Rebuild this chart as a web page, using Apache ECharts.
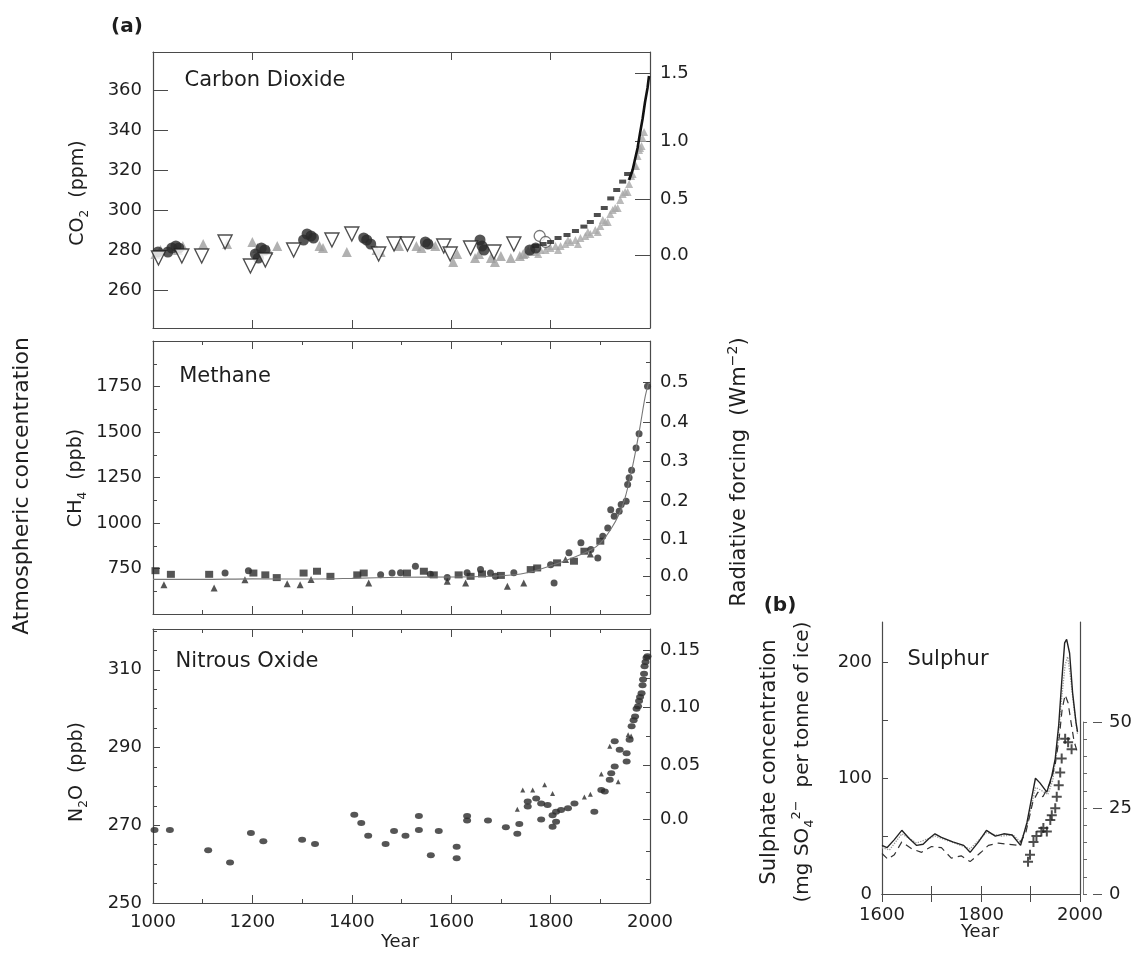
<!DOCTYPE html>
<html><head><meta charset="utf-8">
<script src="https://cdn.jsdelivr.net/npm/echarts@6/dist/echarts.min.js"></script>
<style>html,body{margin:0;padding:0;background:#fff}#c{width:1140px;height:954px}</style>
</head><body><div id="c"></div>
<script>
// ---------------- DATA ----------------
// Panel (a) Carbon dioxide, ppm
const co2GrayTriangles = [[1005,278],[1015,280],[1050,280],[1060,282],[1101,283],[1149,283],[1200,284],[1210,281],[1232,280],[1250,282],[1335,282],[1342,281],[1390,279],[1450,280],[1458,279],[1495,282],[1530,282],[1540,281],[1560,283],[1568,282],[1604,274],[1612,278],[1648,276],[1656,278],[1680,276],[1688,274],[1700,277],[1720,276],[1738,277],[1745,278]];
const co2DarkCircles = [[1010,279],[1030,279],[1038,281],[1046,282],[1052,281],[1206,278],[1212,276],[1218,281],[1225,280],[1303,285],[1310,288],[1318,287],[1323,286],[1424,286],[1430,285],[1438,283],[1548,284],[1553,283],[1658,285],[1662,282],[1666,280],[1758,280],[1770,281]];
const co2OpenTriangles = [[1011,276],[1058,277],[1098,277],[1145,284],[1196,272],[1226,275],[1283,280],[1360,285],[1400,288],[1454,278],[1485,283],[1512,283],[1585,282],[1598,278],[1639,281],[1686,279],[1726,283]];
const co2OpenCircles = [[1778,287],[1790,284]];
const co2GrayBand = [[1750,278],[1760,279],[1770,279],[1780,280],[1790,280],[1800,281],[1810,282],[1820,282],[1830,283],[1840,284],[1850,285],[1860,286],[1870,287],[1880,288],[1890,290],[1900,292],[1910,294],[1920,298],[1930,301],[1940,305],[1950,309],[1958,313],[1965,318],[1970,322],[1975,327],[1980,331],[1985,336],[1988,339],
  [1755,280],[1775,278],[1795,282],[1815,280],[1835,285],[1855,283],[1875,289],[1895,289],[1905,295],[1915,294],[1925,300],[1935,301],[1945,308],[1955,309],[1962,317],[1972,322],[1978,330],[1983,332]];
const co2DarkDashes = [[1770,282],[1785,283],[1800,284],[1815,286],[1833,287.5],[1850,289.5],[1867,291.7],[1880,294],[1894,297.5],[1908,301],[1921,305.8],[1933,310],[1945,314.2],[1955,318]];
const co2Instrumental = [[1958,315],[1965,320],[1970,325.5],[1975,331],[1980,338.5],[1985,345.5],[1990,354],[1995,361],[1998,367]];
const co2Ticks = [260,280,300,320,340,360];
const co2ForcingLabels = ['0.0','0.5','1.0','1.5'];
const co2ForcingAt = [277.5,305.5,334.5,368.5];   // ppm level of each forcing tick

// Methane, ppb
const ch4Line = [[1000,690],[1100,690],[1200,693],[1300,692],[1400,696],[1500,702],[1600,703],[1700,710],[1750,725],[1800,765],[1850,815],[1880,850],[1900,890],[1920,960],[1940,1060],[1950,1140],[1960,1250],[1970,1380],[1980,1530],[1990,1690],[1997,1770]];
const ch4Squares = [[1005,738],[1036,718],[1113,718],[1202,725],[1226,715],[1249,700],[1303,725],[1330,735],[1357,707],[1411,715],[1424,725],[1511,725],[1545,735],[1565,715],[1615,715],[1639,707],[1662,720],[1700,712],[1760,744],[1773,753],[1813,781],[1847,790],[1868,845],[1900,900]];
const ch4Triangles = [[1022,661],[1123,643],[1185,688],[1270,666],[1296,661],[1318,690],[1434,670],[1592,680],[1629,670],[1713,653],[1746,671],[1830,800],[1880,830]];
const ch4Circles = [[1145,725],[1192,738],[1458,716],[1481,725],[1498,726],[1528,762],[1558,719],[1592,701],[1632,726],[1659,744],[1679,725],[1689,708],[1726,726],[1800,771],[1807,671],[1837,836],[1861,891],[1881,854],[1895,808],[1905,927],[1915,973],[1921,1073],[1928,1037],[1938,1064],[1942,1101],[1952,1119],[1955,1211],[1958,1248],[1963,1290],[1972,1412],[1978,1490],[1995,1751]];
const ch4ForcingLabels = ['0.0','0.1','0.2','0.3','0.4','0.5'];
const ch4ForcingAt = [706,909,1118,1338,1552,1772];
const ch4ForcingMinorAt = [605,808,1013,1228,1445,1662,1882];

// Nitrous oxide, ppb
const n2oCircles = [[1003,268.8],[1034,268.8],[1111,263.6],[1155,260.4],[1197,268],[1222,265.9],[1300,266.3],[1326,265.2],[1405,272.7],[1419,270.6],[1433,267.3],[1468,265.2],[1485,268.5],[1508,267.3],[1535,268.8],[1535,272.4],[1559,262.3],[1575,268.5],[1611,264.5],[1611,261.5],[1632,271.2],[1632,272.4],[1674,271.2],[1710,269.5],[1733,267.8],[1737,270.3],[1754,276.1],[1754,274.8],[1771,276.9],[1781,271.5],[1781,275.6],[1794,275.2],[1804,272.6],[1804,269.6],[1811,270.9],[1811,273.5],[1821,273.9],[1835,274.4],[1848,275.6],[1888,273.5],[1902,279.1],[1909,278.7],[1919,281.7],[1922,283.4],[1929,285.1],[1929,291.6],[1939,289.4],[1953,286.4],[1953,288.5],[1959,292],[1963,295.5],[1967,297],[1970,298],[1973,300],[1976,300.6],[1978,302],[1980,303],[1983,304],[1985,306],[1986,307.5],[1988,309],[1989,310.9],[1991,312],[1993,313.1],[1995,313.5]];
const n2oTriangles = [[1733,274.1],[1744,279.1],[1764,279.1],[1788,280.4],[1804,278.2],[1868,277.3],[1880,278],[1902,283.2],[1919,290.3],[1936,281.2],[1956,293.3],[1962,293]];
const n2oTicks = [250,270,290,310];
const n2oMinorTicks = [255,260,265,275,280,285,295,300,305,315,320];
const n2oForcingLabels = ['0.0','0.05','0.10','0.15'];
const n2oForcingAt = [271.5,285.4,300.3,315.1];
const n2oForcingMinorAt = [256,263.4,278.5,292.9,307.7];

// Panel (b) Sulphate, mg SO4 per tonne of ice
const sulphSolid = [[1600,42],[1610,40],[1625,47],[1640,55],[1655,48],[1670,42],[1683,43],[1695,48],[1707,52],[1720,49],[1743,45],[1765,42],[1778,36],[1795,45],[1811,55],[1829,50],[1846,52],[1863,51],[1880,42],[1893,62],[1910,100],[1919,96],[1933,88],[1943,102],[1950,117],[1957,146],[1963,183],[1969,217],[1973,220],[1979,208],[1985,174],[1992,148],[1995,140]];
const sulphDotted = [[1600,40],[1615,38],[1640,52],[1670,44],[1707,50],[1740,45],[1778,39],[1811,53],[1840,50],[1865,51],[1880,45],[1895,62],[1910,92],[1920,90],[1935,86],[1945,98],[1955,130],[1962,165],[1970,198],[1975,205],[1980,190],[1988,160],[1995,138]];
const sulphDashed = [[1600,35],[1612,30],[1625,34],[1640,45],[1660,39],[1680,36],[1700,41],[1720,40],[1740,31],[1760,33],[1778,28],[1800,36],[1815,42],[1835,44],[1855,43],[1875,42],[1890,52],[1905,80],[1915,88],[1925,84],[1940,96],[1950,112],[1958,135],[1964,160],[1970,172],[1976,165],[1982,148],[1988,132],[1995,122]];
const sulphEmissions = [[1895,9.3],[1899,11.3],[1906,15],[1912,16.7],[1922,18],[1926,19],[1933,18],[1940,21.3],[1943,22.7],[1950,24.7],[1953,28],[1957,31.3],[1960,35],[1963,39],[1970,44.7],[1976,43.7],[1983,41.7]];
const sulphTicks = [50,100,150,200];
const sulphLabels = [0,100,200];
const sulphYearLabels = [1600,1800,2000];
const emisLabels = [0,25,50];
const yearLabels = [1000,1200,1400,1600,1800,2000];

// ---------------- CHART ----------------
const FONT = 'DejaVu Sans';
const TXT = '#1e1e1e';
const AX = '#4a4a4a';
const plain = (v) => String(v);
const lbl = (extra) => Object.assign({color: TXT, fontFamily: FONT, fontSize: 18, formatter: plain}, extra || {});
const line = {show: true, lineStyle: {color: AX, width: 1.2}};
const nearestLabel = (pos, labels) => (v) => {
  let b = 0; for (let i = 1; i < pos.length; i++) if (Math.abs(pos[i]-v) < Math.abs(pos[b]-v)) b = i; return labels[b];
};

function xA(grid, position, o) {
  return Object.assign({
    type: 'value', gridIndex: grid, position: position, min: 1000, max: 2000, interval: 200,
    axisLine: line, splitLine: {show: false},
    axisTick: {show: true, inside: true, length: 8, lineStyle: {color: AX}},
    axisLabel: {show: false}
  }, o || {});
}
function yA(grid, position, min, max, o) {
  return Object.assign({
    type: 'value', gridIndex: grid, position: position, min: min, max: max,
    axisLine: line, splitLine: {show: false},
    axisTick: {show: false}, axisLabel: {show: false}
  }, o || {});
}
const minor = (n, len) => ({show: true, splitNumber: n, length: len, lineStyle: {color: AX}});

const xAxis = [
  xA(0, 'bottom'), xA(0, 'top'),
  xA(1, 'bottom', {minorTick: minor(2, 4)}), xA(1, 'top', {minorTick: minor(2, 4)}),
  xA(2, 'bottom', {minorTick: minor(2, 4), axisLabel: lbl({show: true, margin: 10, customValues: yearLabels})}),
  xA(2, 'top', {minorTick: minor(2, 4)}),
  xA(3, 'bottom', {min: 1600, max: 2000, interval: 100, axisLabel: lbl({show: true, margin: 12, customValues: sulphYearLabels})}),
  xA(3, 'top', {min: 1600, max: 2000, interval: 100}),
  {type: 'value', gridIndex: 4, show: false, min: 0, max: 1}
];

const yAxis = [
  // 0,1 CO2
  yA(0, 'left', 241, 379, {axisTick: {show: true, inside: true, length: 15, customValues: co2Ticks, lineStyle: {color: AX}},
    axisLabel: lbl({show: true, margin: 11, customValues: co2Ticks})}),
  yA(0, 'right', 241, 379, {axisTick: {show: true, inside: true, length: 15, customValues: co2ForcingAt, lineStyle: {color: AX}},
    axisLabel: lbl({show: true, margin: 10, customValues: co2ForcingAt, formatter: nearestLabel(co2ForcingAt, co2ForcingLabels)})}),
  // 2,3,4 CH4
  yA(1, 'left', 500, 2000, {interval: 250, axisTick: {show: true, inside: true, length: 7, lineStyle: {color: AX}},
    minorTick: minor(2, 4), axisLabel: lbl({show: true, margin: 11, showMinLabel: false, showMaxLabel: false})}),
  yA(1, 'right', 500, 2000, {axisTick: {show: true, inside: true, length: 7, customValues: ch4ForcingAt, lineStyle: {color: AX}},
    axisLabel: lbl({show: true, margin: 10, customValues: ch4ForcingAt, formatter: nearestLabel(ch4ForcingAt, ch4ForcingLabels)})}),
  yA(1, 'right', 500, 2000, {axisLine: {show: false}, axisTick: {show: true, inside: true, length: 4, customValues: ch4ForcingMinorAt, lineStyle: {color: AX}}}),
  // 5,6,7,8 N2O
  yA(2, 'left', 250, 320.5, {axisTick: {show: true, inside: true, length: 7, customValues: n2oTicks, lineStyle: {color: AX}},
    axisLabel: lbl({show: true, margin: 11, customValues: n2oTicks})}),
  yA(2, 'left', 250, 320.5, {axisLine: {show: false}, axisTick: {show: true, inside: true, length: 4, customValues: n2oMinorTicks, lineStyle: {color: AX}}}),
  yA(2, 'right', 250, 320.5, {axisTick: {show: true, inside: true, length: 7, customValues: n2oForcingAt, lineStyle: {color: AX}},
    axisLabel: lbl({show: true, margin: 10, customValues: n2oForcingAt, formatter: nearestLabel(n2oForcingAt, n2oForcingLabels)})}),
  yA(2, 'right', 250, 320.5, {axisLine: {show: false}, axisTick: {show: true, inside: true, length: 4, customValues: n2oForcingMinorAt, lineStyle: {color: AX}}}),
  // 9,10,11 sulphate
  yA(3, 'left', 0, 235, {axisTick: {show: true, inside: true, length: 6, customValues: sulphTicks, lineStyle: {color: AX}},
    axisLabel: lbl({show: true, margin: 10, customValues: sulphLabels})}),
  yA(3, 'right', 0, 235),
  {type: 'value', gridIndex: 3, show: false, min: 0, max: 235 / 3},
  // 12,13 emissions axis
  yA(4, 'right', 0, 50, {interval: 5, axisLine: {show: true, lineStyle: {color: '#777', width: 1}},
    axisTick: {show: true, inside: false, length: 4, lineStyle: {color: '#666'}}}),
  yA(4, 'right', 0, 50, {axisLine: {show: false}, axisTick: {show: true, inside: false, length: 9, customValues: emisLabels, lineStyle: {color: '#555'}},
    axisLabel: lbl({show: true, margin: 16, customValues: emisLabels})})
];

const sc = (x, y, data, symbol, size, style, extra) => Object.assign({
  type: 'scatter', xAxisIndex: x, yAxisIndex: y, data: data, symbol: symbol, symbolSize: size,
  itemStyle: style, silent: true, animation: false
}, extra || {});
const ln = (x, y, data, style, extra) => Object.assign({
  type: 'line', xAxisIndex: x, yAxisIndex: y, data: data, showSymbol: false, symbol: 'none',
  lineStyle: style, silent: true, animation: false
}, extra || {});

const series = [
  sc(0, 0, co2GrayBand, 'triangle', 8, {color: '#a9a9a9'}),
  sc(0, 0, co2GrayTriangles, 'triangle', 10, {color: '#9d9d9d'}),
  sc(0, 0, co2DarkCircles, 'circle', 11, {color: '#2a2a2a'}),
  sc(0, 0, co2OpenTriangles, 'triangle', 14, {color: '#ffffff', borderColor: '#222', borderWidth: 1.4}, {symbolRotate: 180}),
  sc(0, 0, co2OpenCircles, 'circle', 11, {color: '#ffffff', borderColor: '#555', borderWidth: 1.3}),
  sc(0, 0, co2DarkDashes, 'rect', [7, 4], {color: '#222'}),
  ln(0, 0, co2Instrumental, {color: '#111', width: 2.6}),

  ln(2, 2, ch4Line, {color: '#777', width: 1.1}, {smooth: 0.3}),
  sc(2, 2, ch4Triangles, 'triangle', 7, {color: '#2a2a2a'}),
  sc(2, 2, ch4Squares, 'rect', [8, 7], {color: '#2a2a2a'}),
  sc(2, 2, ch4Circles, 'circle', 7, {color: '#2a2a2a'}),

  sc(4, 5, n2oTriangles, 'triangle', 5, {color: '#2a2a2a'}),
  sc(4, 5, n2oCircles, 'circle', [8, 6], {color: '#2a2a2a'}),

  ln(6, 9, sulphDotted, {color: '#9a9a9a', width: 1.3, type: 'dotted'}),
  ln(6, 9, sulphDashed, {color: '#333', width: 1.2, type: [7, 5]}),
  ln(6, 9, sulphSolid, {color: '#222', width: 1.4}),
  sc(6, 11, sulphEmissions, 'path://M4,0H6V4H10V6H6V10H4V6H0V4H4Z', 10, {color: '#222'})
];

const t = (text, x, y, size, extra, rich) => Object.assign({
  type: 'text', x: x, y: y, silent: true,
  style: {text: text, x: 0, y: 0, fill: TXT, fontFamily: FONT, fontSize: size,
    align: 'center', verticalAlign: 'middle', textAlign: 'center', textVerticalAlign: 'middle', rich: rich}
}, extra || {});
const R = Math.PI / 2;
const richSet = (size) => ({
  n: {fontFamily: FONT, fontSize: size, fill: TXT, lineHeight: size + 6},
  sb: {fontFamily: FONT, fontSize: Math.round(size * 0.65), fill: TXT, verticalAlign: 'bottom', lineHeight: size + 6},
  sp: {fontFamily: FONT, fontSize: Math.round(size * 0.65), fill: TXT, verticalAlign: 'top', lineHeight: size + 6}
});

const graphic = [
  t('(a)', 127, 27, 20, null), t('(b)', 780, 606, 20, null),
  t('Carbon Dioxide', 265, 81, 21), t('Methane', 225, 377, 21), t('Nitrous Oxide', 247, 662, 21), t('Sulphur', 948, 660, 21),
  t('Atmospheric concentration', 22, 486, 22, {rotation: R}),
  t('{n|Radiative forcing  (Wm}{sp|−2}{n|)}', 740, 472, 21, {rotation: R}, richSet(21)),
  t('{n|CO}{sb|2}{n|  (ppm)}', 78, 193, 19, {rotation: R}, richSet(19)),
  t('{n|CH}{sb|4}{n|  (ppb)}', 76, 478, 19, {rotation: R}, richSet(19)),
  t('{n|N}{sb|2}{n|O  (ppb)}', 77, 772, 19, {rotation: R}, richSet(19)),
  t('Sulphate concentration', 770, 762, 21, {rotation: R}),
  t('{n|(mg SO}{sb|4}{sp|2−}{n|  per tonne of ice)}', 803, 762, 20, {rotation: R}, richSet(20)),
  t('Year', 400, 942, 18), t('Year', 980, 932, 18)
];
graphic[0].style.fontWeight = 'bold';
graphic[1].style.fontWeight = 'bold';

const chart = echarts.init(document.getElementById('c'), null, {renderer: 'canvas'});
chart.setOption({
  animation: false,
  backgroundColor: '#ffffff',
  grid: [
    {left: 153, top: 52, width: 497, height: 276},
    {left: 153, top: 341, width: 497, height: 273},
    {left: 153, top: 629, width: 497, height: 274},
    {left: 882, top: 622, width: 198, height: 272},
    {left: 1083, top: 722, width: 10, height: 172}
  ],
  xAxis: xAxis, yAxis: yAxis, series: series, graphic: graphic
});
</script></body></html>
